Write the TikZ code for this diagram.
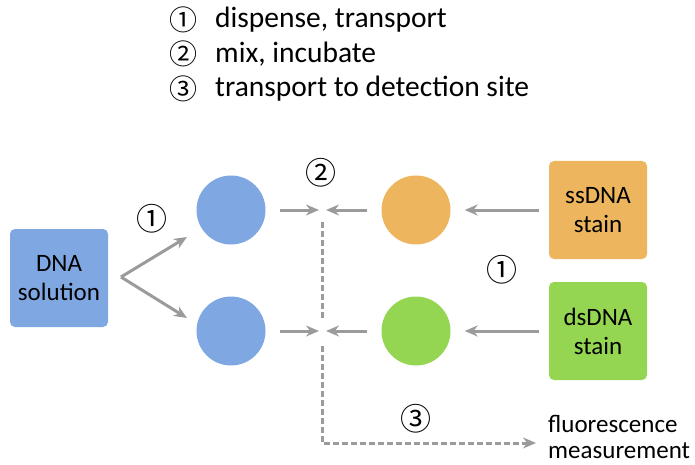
\documentclass[tikz,border=0pt]{standalone}
\usepackage{fontspec}
\setmainfont{Carlito}
\newfontfamily\symf{Noto Sans CJK SC}
\usetikzlibrary{arrows.meta}
\definecolor{cblue}{HTML}{7FA8E2}
\definecolor{corange}{HTML}{EDB65E}
\definecolor{cgreen}{HTML}{94D651}
\definecolor{cgray}{HTML}{9B9B9B}
\begin{document}
\begin{tikzpicture}[x=1pt,y=-1pt,
  box/.style={rounded corners=5pt, minimum width=98pt, minimum height=98pt, align=center, font=\fontsize{25}{29}\selectfont, inner sep=0pt},
  drop/.style={circle, minimum size=69pt, inner sep=0pt},
  arr/.style={draw=cgray, line width=3pt, -{Stealth[length=13pt,width=11pt]}},
  darr/.style={draw=cgray, line width=3pt, dash pattern=on 6pt off 3pt},
  num/.style={font=\symf\fontsize{31}{33}\selectfont, inner sep=0pt},
  lnum/.style={font=\symf\fontsize{28}{30}\selectfont, inner sep=0pt},
  lbl/.style={font=\fontsize{29.5}{34}\selectfont, anchor=west, inner sep=0pt},
  flbl/.style={font=\fontsize{25}{26}\selectfont, anchor=west, inner sep=0pt, align=left}]
\useasboundingbox (0,0) rectangle (695,465);
% legend
\node[lnum] (l1n) at (183,20) {①};
\node[lnum] (l2n) at (183,54) {②};
\node[lnum] (l3n) at (183,89) {③};
\node[lbl] (l1) at (215,20) {dispense, transport};
\node[lbl] (l2) at (215,54) {mix, incubate};
\node[lbl] (l3) at (215,89) {transport to detection site};
% boxes
\node[box, fill=cblue] (dna) at (59,278) {DNA\\solution};
\node[box, fill=corange] (ss) at (598,210) {ssDNA\\stain};
\node[box, fill=cgreen] (ds) at (598,331) {dsDNA\\stain};
% drops
\node[drop, fill=cblue] (b1) at (231,210) {};
\node[drop, fill=cblue] (b2) at (231,331) {};
\node[drop, fill=corange] (o1) at (416,210) {};
\node[drop, fill=cgreen] (g1) at (416,331) {};
% coordinates
\coordinate (fork) at (121,277);
\coordinate (f1) at (187,237);
\coordinate (f2) at (187,318);
\coordinate (m1l) at (319,210);
\coordinate (m1r) at (326,210);
\coordinate (m2l) at (319,331);
\coordinate (m2r) at (326,331);
\coordinate (v1t) at (322,222);
\coordinate (v1b) at (322,318);
\coordinate (v2t) at (322,346);
\coordinate (corner) at (322,443);
\coordinate (fend) at (536,443);
% arrows
\draw[arr] (fork) -- (f1);
\draw[arr] (fork) -- (f2);
\draw[arr, shorten <=14pt] (b1.east) -- (m1l);
\draw[arr, shorten <=14pt] (b2.east) -- (m2l);
\draw[arr, shorten <=14pt] (o1.west) -- (m1r);
\draw[arr, shorten <=14pt] (g1.west) -- (m2r);
\draw[arr, shorten <=10pt] (ss.west) -- ([xshift=14pt]o1.east);
\draw[arr, shorten <=10pt] (ds.west) -- ([xshift=14pt]g1.east);
\draw[darr] (v1t) -- (v1b);
\draw[darr, -{Stealth[length=13pt,width=11pt]}] (v2t) -- (corner) -- (fend);
% step numbers
\node[num] (n1a) at (152,219) {①};
\node[num] (n2) at (321,173) {②};
\node[num] (n1b) at (502,270) {①};
\node[num] (n3) at (416,419) {③};
\node[flbl] (fm) at (548,437) {fluorescence\\measurement};
\end{tikzpicture}
\end{document}
